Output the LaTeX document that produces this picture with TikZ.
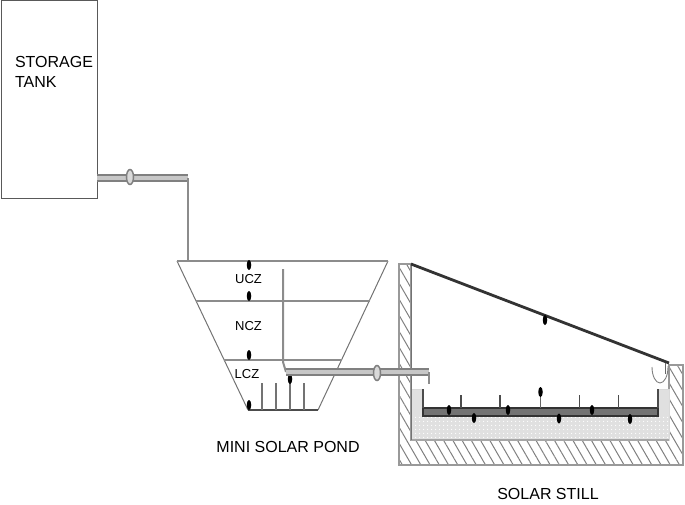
\documentclass[tikz,border=0pt]{standalone}
\usepackage{fontspec}
\setmainfont{Liberation Sans}
\usetikzlibrary{patterns.meta,shapes.geometric}
\begin{document}
\begin{tikzpicture}[x=1pt,y=-1pt,inner sep=0pt,outer sep=0pt,
wall/.style={draw=black!40,line width=1.2pt},
hatch/.style={wall,pattern={Lines[angle=-60,distance=8pt,line width=1pt]},pattern color=black!50},
pipe/.style={draw=black!50,line width=2.4pt,double=black!22,double distance=3.5pt},
pipeline/.style={draw=black!45,line width=2pt},
sens/.style={draw=none,fill=black,ellipse,minimum width=4.5pt,minimum height=10pt},
valve/.style={draw=black!50,fill=black!15,ellipse,line width=1.5pt,minimum width=7pt,minimum height=15pt},
lab/.style={font=\fontsize{16}{20}\selectfont,align=left},
zonelab/.style={font=\fontsize{13}{15}\selectfont}]
\useasboundingbox (0,0) rectangle (685,504);
% tank and first pipe
\draw (49,99.5) node[draw=black!65,line width=1pt,minimum width=96pt,minimum height=198pt] (tank) {};
\draw (15,72) node[lab,anchor=west] (tanklab) {STORAGE\\TANK};
\coordinate (pipe1) at (188,178);
\coordinate (pondin) at (188,261);
\draw[pipe] (tank.east |- pipe1) -- (pipe1);
\draw[pipeline] (pipe1) -- (pondin);
\draw (130,177) node[valve] (valve1) {};
% pond
\coordinate (pondtl) at (177,261);
\coordinate (pondtr) at (388,261);
\coordinate (pondbl) at (248,410);
\coordinate (pondbr) at (318,410);
\draw[draw=black!55,line width=1pt] (pondtl) -- (pondbl);
\draw[draw=black!55,line width=1pt] (pondtr) -- (pondbr);
\draw[pipeline] (pondtl) -- (pondtr);
\draw[pipeline] (196,301) -- (370,301);
\draw[pipeline] (224,360) -- (342,360);
\draw[draw=black!70,line width=1.4pt] (pondbl) -- (pondbr);
\foreach \sx in {262,276,290,304}
  \draw[draw=black!55,line width=1.3pt] (\sx,410) -- (\sx,383);
\draw (248.5,279) node[zonelab] (ucz) {UCZ};
\draw (248.5,326) node[zonelab] (ncz) {NCZ};
\draw (247,374) node[zonelab] (lcz) {LCZ};
\foreach \dx/\dy [count=\di] in {249/265,249/296,249/355,249/405,290/379}
  \draw (\dx,\dy) node[sens] (pd\di) {};
% still walls
\coordinate (glasstop) at (411,264);
\coordinate (glassend) at (669,363);
\draw[hatch] (399,264) -- (411,264) -- (411,440) -- (669,440) -- (669,365) -- (683,365) -- (683,465) -- (399,465) -- cycle;
\draw[draw=black!15,fill=black!12] (411,389) -- (423,389) -- (423,416) -- (658,416) -- (658,389) -- (669,389) -- (669,440) -- (411,440) -- cycle;
\fill[pattern={Dots[distance=4pt,radius=0.7pt]},pattern color=white] (411,416) rectangle (669,438);
\draw[draw=black!35,line width=1.2pt] (411,440) -- (669,440);
\draw[draw=black!55,line width=1pt] (411,264) -- (411,440);
% second pipe
\coordinate (riser) at (283,269);
\coordinate (elbow) at (286,372);
\coordinate (pipeend) at (429,372);
\coordinate (pipedrop) at (429,384);
\draw[pipeline] (riser) -- (283,362) -- (elbow);
\draw[pipe] (elbow) -- (pipeend);
\draw[pipeline] (pipeend) -- (pipedrop);
\draw (377,373) node[valve] (valve2) {};
% glass cover and gutter
\draw[draw=black!80,line width=2.8pt] (glasstop) -- (glassend);
\draw[draw=black!50,line width=0.9pt] (652,367) arc (180:0:8 and 16) -- (668,366);
\draw[draw=black!60,line width=1pt] (665,363) -- (665,374);
% basin
\draw[draw=black!80,fill=black!55,line width=1.2pt] (423,408) rectangle (658,416);
\draw[draw=black!70,line width=1.2pt] (423,408) -- (423,389);
\draw[draw=black!70,line width=1.2pt] (658,408) -- (658,389);
\foreach \sx in {461,500,579.5,618.5}
  \draw[draw=black!70,line width=1.2pt] (\sx,408) -- (\sx,395);
\draw[draw=black!60,line width=1.2pt] (540.5,408) -- (540.5,392);
\foreach \dx/\dy [count=\di] in {545/320,540.5/392,449/410,508/410,592/410,474/418,559/418.5,630/419}
  \draw (\dx,\dy) node[sens] (sd\di) {};
% labels
\draw (288,447) node[lab] (pondlab) {MINI SOLAR POND};
\draw (548,494) node[lab] (stilllab) {SOLAR STILL};
\end{tikzpicture}
\end{document}
